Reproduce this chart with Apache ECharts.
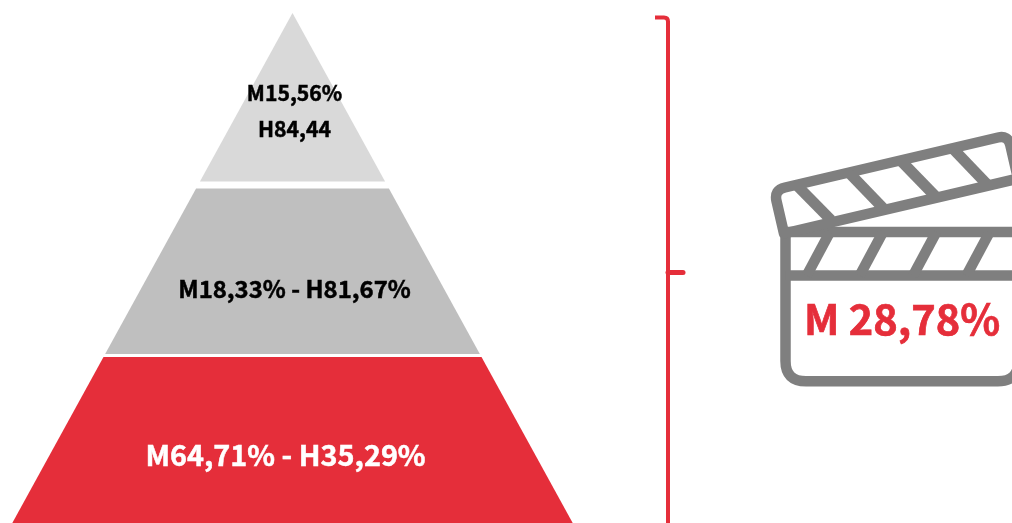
<!DOCTYPE html>
<html>
<head>
<meta charset="utf-8">
<style>html,body{margin:0;padding:0;background:#fff}#c{width:1012px;height:523px}</style>
<script src="https://cdn.jsdelivr.net/npm/echarts@6/dist/echarts.min.js"></script>
</head>
<body>
<div id="c"></div>
<script>
const levels = ['Top', 'Middle', 'Base'];
const womenShare = [15.56, 18.33, 64.71];
const menShare = [84.44, 81.67, 35.29];
const levelLabels = ['M15,56%\nH84,44', 'M18,33% - H81,67%', 'M64,71% - H35,29%'];
const levelColors = ['#D9D9D9', '#BFBFBF', '#E52E3A'];
const labelColors = ['#000000', '#000000', '#FFFFFF'];
const overallLabel = 'M 28,78%';

const RED = '#E52E3A', GREY = '#7F7F7F';
const FONT = '"Noto Sans CJK SC","Noto Sans",sans-serif';
const topPad = [0, 5.5, 4], bottomPad = [1.5, -1, 0];
const labelOffset = [0.5735, 0.6235, 0.6];
const labelShift = [2, 2, -7];
const labelSize = [21.2, 23.9, 28.8];

const chart = echarts.init(document.getElementById('c'));
const clapStripes = [
  [798, 186.5, 831, 220], [850, 173.7, 883, 208],
  [901.5, 161.3, 935, 195.8], [953, 148.7, 987, 184.3]
];
const barStripes = [
  [830, 232, 806.7, 275.5], [883, 232, 859.7, 275.5],
  [936.4, 232, 913.1, 275.5], [989.7, 232, 966.4, 275.5]
];
const line = (pathData, color, width, extra) => ({
  type: 'path', silent: true,
  shape: { pathData },
  style: Object.assign({ fill: 'none', stroke: color, lineWidth: width, lineJoin: 'round', lineCap: 'butt' }, extra || {})
});
const seg = s => 'M' + s[0] + ' ' + s[1] + ' L' + s[2] + ' ' + s[3];

chart.setOption({
  animation: false,
  backgroundColor: '#ffffff',
  grid: { left: 12.3, top: 13, width: 560.4, height: 510 },
  xAxis: { type: 'value', min: -1, max: 1, show: false },
  yAxis: { type: 'value', min: 0, max: 3, inverse: true, show: false },
  series: [{
    type: 'custom',
    coordinateSystem: 'cartesian2d',
    clip: false,
    silent: true,
    data: levels.map((name, i) => ({ name, value: [i, womenShare[i], menShare[i]] })),
    renderItem(params, api) {
      const i = api.value(0);
      const unit = api.size([0, 1])[1];
      const d0 = i + topPad[i] / unit;
      const d1 = i + 1 - bottomPad[i] / unit;
      const edge = d => d / 3;
      const points = [
        api.coord([-edge(d0), d0]), api.coord([edge(d0), d0]),
        api.coord([edge(d1), d1]), api.coord([-edge(d1), d1])
      ];
      const c = api.coord([0, i + labelOffset[i]]);
      return {
        type: 'group',
        children: [
          { type: 'polygon', shape: { points }, style: { fill: levelColors[i] } },
          { type: 'text', x: c[0] + labelShift[i], y: c[1], style: {
              text: levelLabels[i], fill: labelColors[i], stroke: labelColors[i], lineWidth: 0.5,
              font: '700 ' + labelSize[i] + 'px ' + FONT,
              align: 'center', verticalAlign: 'middle', lineHeight: 36 } }
        ]
      };
    }
  }, {
    type: 'custom',
    coordinateSystem: 'none',
    silent: true,
    data: [0],
    renderItem() {
      return {
        type: 'group',
        children: [
          line('M655 17.5 L664 17.5 Q668 17.5 668 21.5 L668 530', RED, 4),
          line('M668 272.5 L683 272.5', RED, 5, { lineCap: 'round' }),
          line('M1030 232 L785.5 232 L785.5 361 Q785.5 381.3 806 381.3 L998 381.3 Q1018.5 381.3 1018.5 361 L1018.5 232', GREY, 10.5),
          line('M1030 275.5 L785.5 275.5', GREY, 10.5),
          line('M784 233.5 L776.5 201 Q774 190 785 187.5 L998 137.5 Q1008 135.1 1010.3 145 L1018 178.6 L784 233.5 Z', GREY, 10.5),
          ...clapStripes.map(s => line(seg(s), GREY, 11)),
          ...barStripes.map(s => line(seg(s), GREY, 10.5)),
          { type: 'text', x: 902, y: 319, style: {
              text: overallLabel, fill: RED, stroke: RED, lineWidth: 0.7,
              font: '700 41.5px ' + FONT, align: 'center', verticalAlign: 'middle' } }
        ]
      };
    }
  }]
});
</script>
</body>
</html>
